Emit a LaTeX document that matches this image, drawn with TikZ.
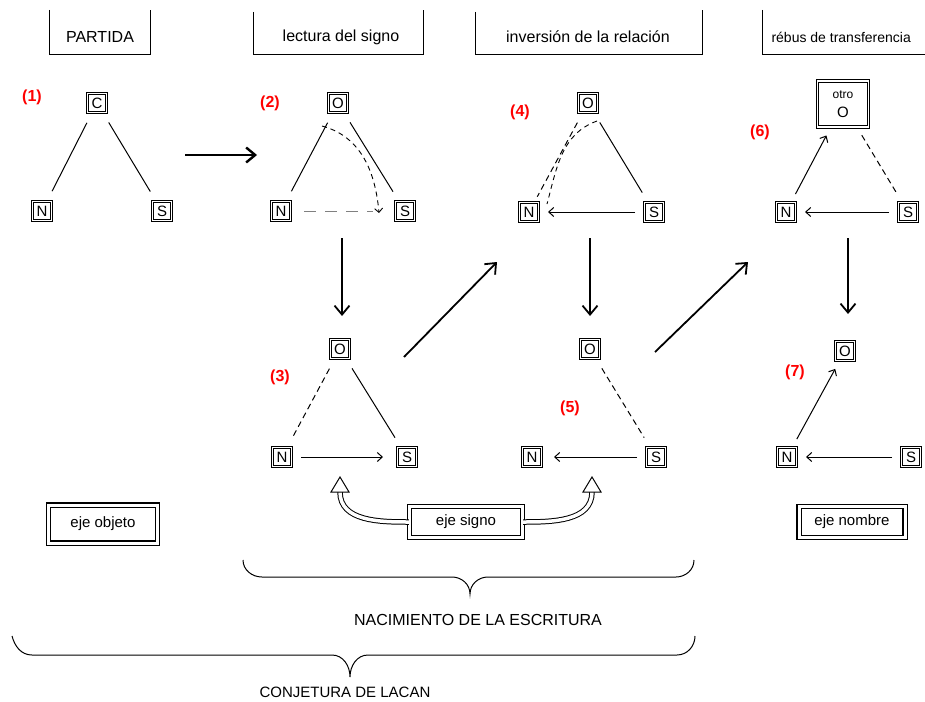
\documentclass[tikz,border=0pt]{standalone}
\usepackage{fontspec}
\setmainfont{Liberation Sans}
\usetikzlibrary{arrows.meta, positioning, calc}

\begin{document}
\begin{tikzpicture}[
      x=1pt, y=1pt,
      cuadro/.style={draw, double, double distance=1.3pt, line width=1pt,
                     minimum size=19pt, inner sep=0pt, font=\fontsize{15}{15}\selectfont},
      num/.style={text=red, font=\bfseries\fontsize{16}{16}\selectfont},
      cab/.style={font=\fontsize{16}{16}\selectfont},
      eje/.style={draw, double, double distance=3pt, line width=1.1pt, inner sep=0pt,
                  font=\fontsize{15}{15}\selectfont},
      rel/.style={line width=1pt, shorten <=11pt, shorten >=11pt},
      rot/.style={rel, dash pattern=on 6pt off 4pt},
      fl/.style={line width=1pt, shorten <=9pt, shorten >=9pt,
                 -{Straight Barb[length=5pt,width=9pt]}},
      gran/.style={-{Straight Barb[length=9pt,width=15pt]}, line width=1.8pt},
      hueca/.style={double, double distance=3.5pt, line width=1pt},
      llave/.style={line width=1pt}
    ]
    \useasboundingbox[fill=white] (0,0) rectangle (925,-701);

    % Encabezados
    \draw[line width=1pt] (49,-10) |- (150,-55) -- (150,-10);
    \draw[line width=1pt] (253,-12) |- (423,-55) -- (423,-10);
    \draw[line width=1pt] (475,-12) |- (702,-55) -- (702,-10);
    \draw[line width=1pt] (762,-10) |- (930,-55);
    \node[cab] (partida) at (100,-37) {PARTIDA};
    \node[cab] (lectura) at (341,-37) {lectura del signo};
    \node[cab] (inversion) at (588,-37) {inversión de la relación};
    \node[cab, anchor=west, font=\fontsize{14}{14}\selectfont] (rebus) at (768,-37) {rébus de transferencia};

    % (1)
    \node[cuadro] (o1) at (97,-103) {C};
    \node[cuadro] (n1) at (42,-211) {N};
    \node[cuadro] (s1) at (162,-211) {S};
    \node[num] (k1) at (32,-97) {(1)};
    \draw[rel] (o1) -- (n1);
    \draw[rel] (o1) -- (s1);

    % (2)
    \node[cuadro] (o2) at (338,-103) {O};
    \node[cuadro] (n2) at (281,-211) {N};
    \node[cuadro] (s2) at (405,-211) {S};
    \node[num] (k2) at (270,-103) {(2)};
    \draw[rel] (o2) -- (n2);
    \draw[rel] (o2) -- (s2);
    \draw[line width=0.9pt, dash pattern=on 5pt off 4pt, -{Straight Barb[length=4pt,width=8pt]}]
      ($(o2.south)+(-16,-13)$) to[out=-15,in=95] ($(s2.west)+(-16,-2)$);
    \draw[gray, line width=0.7pt, dash pattern=on 12pt off 9pt, shorten <=13pt, shorten >=22pt] (n2) -- (s2);

    % (3)
    \node[cuadro] (o3) at (340,-349) {O};
    \node[cuadro] (n3) at (282,-457) {N};
    \node[cuadro] (s3) at (407,-457) {S};
    \node[num] (k3) at (280,-377) {(3)};
    \draw[rot] (o3) -- (n3);
    \draw[rel] (o3) -- (s3);
    \draw[fl, shorten >=14pt] (n3) -- (s3);

    % (4)
    \node[cuadro] (o4) at (588,-103) {O};
    \node[cuadro] (n4) at (529,-212) {N};
    \node[cuadro] (s4) at (654,-212) {S};
    \node[num] (k4) at (520,-112) {(4)};
    \draw[rot, shorten >=6pt] (o4) -- (n4);
    \draw[line width=0.9pt, dash pattern=on 5pt off 4pt]
      ($(o4.south)+(9,-8)$) to[out=-160,in=75] ($(n4.north east)+(8,-2)$);
    \draw[rel] (o4) -- (s4);
    \draw[fl] (s4) -- (n4);

    % (5)
    \node[cuadro] (o5) at (590,-349) {O};
    \node[cuadro] (n5) at (532,-457) {N};
    \node[cuadro] (s5) at (656,-457) {S};
    \node[num] (k5) at (570,-408) {(5)};
    \draw[rot] (o5) -- (s5);
    \draw[fl, shorten >=12pt] (s5) -- (n5);

    % (6)
    \node[cuadro, minimum width=51pt, minimum height=46pt, align=center] (otro) at (843,-104)
      {{\fontsize{12}{12}\selectfont otro}\\[4pt]O};
    \node[cuadro] (n6) at (786,-212) {N};
    \node[cuadro] (s6) at (908,-212) {S};
    \node[num] (k6) at (760,-132) {(6)};
    \draw[fl] (n6) -- (otro);
    \draw[rot, shorten <=9pt] (otro) -- (s6);
    \draw[fl] (s6) -- (n6);

    % (7)
    \node[cuadro] (o7) at (845,-351) {O};
    \node[cuadro] (n7) at (787,-457) {N};
    \node[cuadro] (s7) at (911,-457) {S};
    \node[num] (k7) at (795,-372) {(7)};
    \draw[fl] (n7) -- (o7);
    \draw[fl] (s7) -- (n7);

    % Flechas grandes
    \coordinate (a12i) at (185,-155);  \coordinate (a12f) at (257,-155);
    \coordinate (a23i) at (342,-238);  \coordinate (a23f) at (342,-316);
    \coordinate (a34i) at (404,-357);  \coordinate (a34f) at (497,-262);
    \coordinate (a45i) at (590,-238);  \coordinate (a45f) at (590,-316);
    \coordinate (a56i) at (655,-352);  \coordinate (a56f) at (748,-262);
    \coordinate (a67i) at (848,-238);  \coordinate (a67f) at (848,-314);
    \draw[gran, line width=2.4pt] (a12i) -- (a12f);
    \draw[gran] (a23i) -- (a23f);
    \draw[gran] (a34i) -- (a34f);
    \draw[gran] (a45i) -- (a45f);
    \draw[gran] (a56i) -- (a56f);
    \draw[gran] (a67i) -- (a67f);

    % Ejes
    \node[eje, minimum width=109pt, minimum height=38pt] (objeto) at (103,-524) {eje objeto};
    \node[eje, minimum width=113pt, minimum height=31pt] (signo)  at (466,-522) {eje signo};
    \node[eje, minimum width=106pt, minimum height=31pt] (nombre) at (852,-522) {eje nombre};

    \coordinate (pL) at (340,-477);
    \coordinate (pR) at (592,-477);
    \draw[hueca] (signo.west) to[out=180,in=-90] ($(pL)+(0,-15)$);
    \draw[hueca] (signo.east) to[out=0,in=-90] ($(pR)+(0,-15)$);
    \draw[line width=1pt, fill=white] (pL) -- ++(-9,-15) -- ++(18,0) -- cycle;
    \draw[line width=1pt, fill=white] (pR) -- ++(-9,-15) -- ++(18,0) -- cycle;

    % Llaves
    \draw[llave] (243,-560) to[out=-90,in=180] (262,-577) -- (452,-577)
      to[out=0,in=90] (470,-594) to[out=90,in=180] (488,-577) -- (676,-577)
      to[out=0,in=-90] (694,-560);
    \node[font=\fontsize{16}{16}\selectfont] (nacimiento) at (478,-620) {NACIMIENTO DE LA ESCRITURA};

    \draw[llave] (12,-636) to[out=-75,in=180] (32,-655) -- (332,-655)
      to[out=0,in=90] (350,-677) to[out=90,in=180] (368,-655) -- (677,-655)
      to[out=0,in=-90] (695,-636);
    \node[font=\fontsize{15}{15}\selectfont] (conjetura) at (345,-692) {CONJETURA DE LACAN};
  \end{tikzpicture}
\end{document}
